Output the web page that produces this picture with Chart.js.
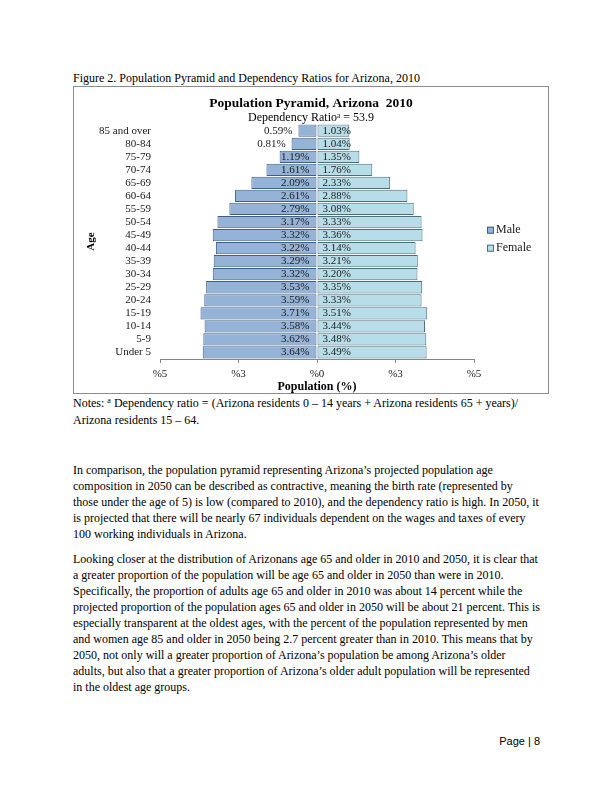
<!DOCTYPE html>
<html>
<head>
<meta charset="utf-8">
<title>Population Pyramid, Arizona 2010</title>
<script src="https://cdn.jsdelivr.net/npm/chart.js@4.4.0/dist/chart.umd.min.js"></script>
<style>
  body { margin: 0; background: #fff; }
  .page { position: relative; width: 612px; height: 792px; font-family: "Liberation Serif", "Times New Roman", serif; font-size: 12px; color: #000; }
  .ln { position: absolute; left: 73px; white-space: nowrap; line-height: 16px; }
  .ln sup { font-size: 8px; vertical-align: 4px; line-height: 0; }
  .box { position: absolute; left: 73px; top: 86px; width: 474px; height: 306px; border: 1px solid #8c8c8c; }
  .pg { position: absolute; right: 72px; top: 733px; line-height: 16px; font-family: "Liberation Sans", Arial, sans-serif; font-size: 11px; }
</style>
</head>
<body>
<div class="page">
  <div class="ln" style="top:70px">Figure 2. Population Pyramid and Dependency Ratios for Arizona, 2010</div>
  <div class="box"><canvas id="pyramid" width="474" height="306"></canvas></div>
  <div class="ln" style="top:395px">Notes: <sup>a</sup> Dependency ratio = (Arizona residents 0 – 14 years + Arizona residents 65 + years)/</div>
  <div class="ln" style="top:412px">Arizona residents 15 – 64.</div>

  <div class="ln" style="top:462px">In comparison, the population pyramid representing Arizona’s projected population age</div>
  <div class="ln" style="top:478px">composition in 2050 can be described as contractive, meaning the birth rate (represented by</div>
  <div class="ln" style="top:494px">those under the age of 5) is low (compared to 2010), and the dependency ratio is high. In 2050, it</div>
  <div class="ln" style="top:510px">is projected that there will be nearly 67 individuals dependent on the wages and taxes of every</div>
  <div class="ln" style="top:526px">100 working individuals in Arizona.</div>

  <div class="ln" style="top:551px">Looking closer at the distribution of Arizonans age 65 and older in 2010 and 2050, it is clear that</div>
  <div class="ln" style="top:567px">a greater proportion of the population will be age 65 and older in 2050 than were in 2010.</div>
  <div class="ln" style="top:583px">Specifically, the proportion of adults age 65 and older in 2010 was about 14 percent while the</div>
  <div class="ln" style="top:599px">projected proportion of the population ages 65 and older in 2050 will be about 21 percent. This is</div>
  <div class="ln" style="top:615px">especially transparent at the oldest ages, with the percent of the population represented by men</div>
  <div class="ln" style="top:631px">and women age 85 and older in 2050 being 2.7 percent greater than in 2010. This means that by</div>
  <div class="ln" style="top:647px">2050, not only will a greater proportion of Arizona’s population be among Arizona’s older</div>
  <div class="ln" style="top:663px">adults, but also that a greater proportion of Arizona’s older adult population will be represented</div>
  <div class="ln" style="top:679px">in the oldest age groups.</div>

  <div class="pg">Page | 8</div>
</div>
<script>
const ageGroups = ['85 and over', '80-84', '75-79', '70-74', '65-69', '60-64', '55-59', '50-54', '45-49',
    '40-44', '35-39', '30-34', '25-29', '20-24', '15-19', '10-14', '5-9', 'Under 5'];
const malePct = [0.59, 0.81, 1.19, 1.61, 2.09, 2.61, 2.79, 3.17, 3.32, 3.22, 3.29, 3.32, 3.53, 3.59, 3.71, 3.58, 3.62, 3.64];
const femalePct = [1.03, 1.04, 1.35, 1.76, 2.33, 2.88, 3.08, 3.33, 3.36, 3.14, 3.21, 3.20, 3.35, 3.33, 3.51, 3.44, 3.48, 3.49];
const seriesNames = ['Male', 'Female'];
const tickValues = [-5, -2.5, 0, 2.5, 5];
const tickLabels = ['%5', '%3', '%0', '%3', '%5'];

const serif = "'Liberation Serif', 'Times New Roman', serif";

// value labels: male inside near the centre line (outside when the bar is too short), female inside from the base
const barLabels = {
    id: 'barLabels',
    afterDatasetsDraw(chart) {
        const ctx = chart.ctx;
        ctx.save();
        ctx.font = '11px ' + serif;
        ctx.fillStyle = '#1a1a1a';
        ctx.textBaseline = 'middle';
        chart.data.datasets.forEach((ds, i) => {
            chart.getDatasetMeta(i).data.forEach((bar, j) => {
                const text = Math.abs(ds.data[j]).toFixed(2) + '%';
                const w = ctx.measureText(text).width;
                const left = Math.min(bar.x, bar.base);
                const right = Math.max(bar.x, bar.base);
                if (i === 0) {
                    ctx.textAlign = 'right';
                    if (right - left < w + 4) ctx.fillText(text, left - 6, bar.y);
                    else ctx.fillText(text, right - 7, bar.y);
                } else {
                    ctx.textAlign = 'left';
                    ctx.fillText(text, left + 5, bar.y);
                }
            });
        });
        ctx.restore();
    }
};

// legend to the right of the plot, like the Excel one
const sideLegend = {
    id: 'sideLegend',
    afterDraw(chart) {
        const { ctx, chartArea } = chart;
        const x = chartArea.right + 13;
        ctx.save();
        ctx.font = '12px ' + serif;
        ctx.textBaseline = 'middle';
        ctx.textAlign = 'left';
        chart.data.datasets.forEach((ds, i) => {
            const y = chartArea.top + 106 + i * 18;
            ctx.fillStyle = ds.backgroundColor;
            ctx.fillRect(x, y - 3.5, 7, 7);
            ctx.strokeStyle = ds.borderColor;
            ctx.lineWidth = 1;
            ctx.strokeRect(x + 0.5, y - 3, 6, 6);
            ctx.fillStyle = '#1a1a1a';
            ctx.fillText(ds.label, x + 9, y);
        });
        ctx.restore();
    }
};

new Chart(document.getElementById('pyramid'), {
    type: 'bar',
    data: {
        labels: ageGroups,
        datasets: [
            { label: seriesNames[0], data: malePct.map(v => -v), backgroundColor: '#95b3d7', borderColor: '#3f5f86', borderWidth: 1, borderSkipped: false },
            { label: seriesNames[1], data: femalePct, backgroundColor: '#b7dde8', borderColor: '#4c6f80', borderWidth: 1, borderSkipped: false }
        ]
    },
    options: {
        indexAxis: 'y',
        responsive: false,
        animation: false,
        layout: { padding: 0 },
        datasets: { bar: { barPercentage: 0.94, categoryPercentage: 1 } },
        scales: {
            x: {
                stacked: true,
                min: -5,
                max: 5,
                afterBuildTicks: s => { s.ticks = tickValues.map(v => ({ value: v })); },
                ticks: {
                    callback: (v, i) => tickLabels[i],
                    font: { family: serif, size: 11 },
                    color: '#1a1a1a',
                    padding: 5,
                    maxRotation: 0,
                    autoSkip: false
                },
                grid: { drawOnChartArea: false, drawTicks: true, tickLength: 4, color: '#868686' },
                border: { color: '#868686' },
                title: {
                    display: true,
                    text: 'Population (%)',
                    font: { family: serif, size: 12, weight: 'bold', lineHeight: 1 },
                    color: '#000',
                    padding: { top: 2, bottom: 0 }
                },
                afterFit: s => { s.height = 34; }
            },
            y: {
                stacked: true,
                grid: { display: false, drawTicks: false },
                border: { display: false },
                ticks: { font: { family: serif, size: 11 }, color: '#1a1a1a', padding: 9, autoSkip: false },
                title: {
                    display: true,
                    text: 'Age',
                    font: { family: serif, size: 11, weight: 'bold' },
                    color: '#000',
                    padding: { top: 11, bottom: 0 }
                },
                afterFit: s => { s.width = 86; }
            },
            // empty right-hand axis that keeps room for the legend
            legendSpace: {
                type: 'category',
                axis: 'y',
                position: 'right',
                grid: { display: false, drawTicks: false },
                border: { display: false },
                ticks: { display: false },
                afterFit: s => { s.width = 74; }
            }
        },
        plugins: {
            legend: { display: false },
            tooltip: { enabled: false },
            title: {
                display: true,
                text: 'Population Pyramid, Arizona  2010',
                font: { family: serif, size: 13.5, weight: 'bold', lineHeight: 1.2 },
                color: '#000',
                padding: { top: 8, bottom: 1 }
            },
            subtitle: {
                display: true,
                text: 'Dependency Ratioᵃ = 53.9',
                font: { family: serif, size: 12, lineHeight: 1 },
                color: '#000',
                padding: { top: 0, bottom: 0 }
            }
        }
    },
    plugins: [barLabels, sideLegend]
});
</script>
</body>
</html>
